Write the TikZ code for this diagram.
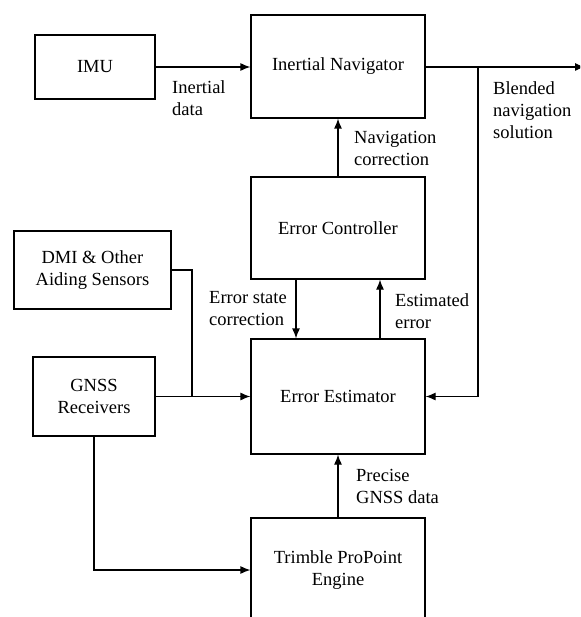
\documentclass[tikz,border=0pt]{standalone}
\usepackage{fontspec}
\setmainfont{Liberation Serif}
\newfontfamily\tmsfont{Liberation Serif}
\usetikzlibrary{arrows.meta}
\begin{document}
\begin{tikzpicture}[x=1pt,y=-1pt,
  box/.style={draw, line width=1.2pt, inner sep=0pt, align=center, font=\tmsfont\fontsize{18.5}{22}\selectfont},
  lbl/.style={inner sep=0pt, align=left, anchor=west, font=\tmsfont\fontsize{18.5}{22}\selectfont},
  line/.style={line width=1.2pt},
  arr/.style={line width=1.2pt, -{Latex[length=10pt,width=8pt]}}]
\useasboundingbox (0,0) rectangle (580,617);
\clip (0,0) rectangle (580,617);
\node[box, minimum width=120pt, minimum height=64pt] (imu) at (95,67) {IMU};
\node[box, minimum width=174pt, minimum height=103pt] (nav) at (338,66.5) {Inertial Navigator};
\node[box, minimum width=174pt, minimum height=102pt] (ctrl) at (338,228) {Error Controller};
\node[box, minimum width=157pt, minimum height=78pt] (dmi) at (92.5,270) {DMI \& Other\\Aiding Sensors};
\node[box, minimum width=174pt, minimum height=115pt] (est) at (338,396.5) {Error Estimator};
\node[box, minimum width=122pt, minimum height=79pt] (gnss) at (94,396.5) {GNSS\\Receivers};
\node[box, minimum width=174pt, minimum height=104pt] (trim) at (338,570) {Trimble ProPoint\\Engine};
\coordinate (out) at (585,67);
\coordinate (br) at (478,67);
\coordinate (j) at (192,396.5);
\node[lbl] (l1) at (172,98) {Inertial\\data};
\node[lbl] (l2) at (493,110) {Blended\\navigation\\solution};
\node[lbl] (l3) at (354,148) {Navigation\\correction};
\node[lbl] (l4) at (209,309) {Error state\\correction};
\node[lbl] (l5) at (395,311) {Estimated\\error};
\node[lbl] (l6) at (356,486) {Precise\\GNSS data};
\draw[arr] (imu.east) -- (imu.east -| nav.west);
\draw[arr] (nav.east |- out) -- (out);
\draw[arr] (br) |- (est.east);
\draw[arr] (ctrl.north) -- (nav.south);
\draw[arr] ([xshift=-42pt]ctrl.south) -- ([xshift=-42pt]est.north);
\draw[arr] ([xshift=42pt]est.north) -- ([xshift=42pt]ctrl.south);
\draw[arr] (trim.north) -- (est.south);
\draw[arr] (gnss.east) -- (est.west);
\draw[line] (dmi.east) -| (j);
\draw[arr] (gnss.south) |- (trim.west);
\end{tikzpicture}
\end{document}
